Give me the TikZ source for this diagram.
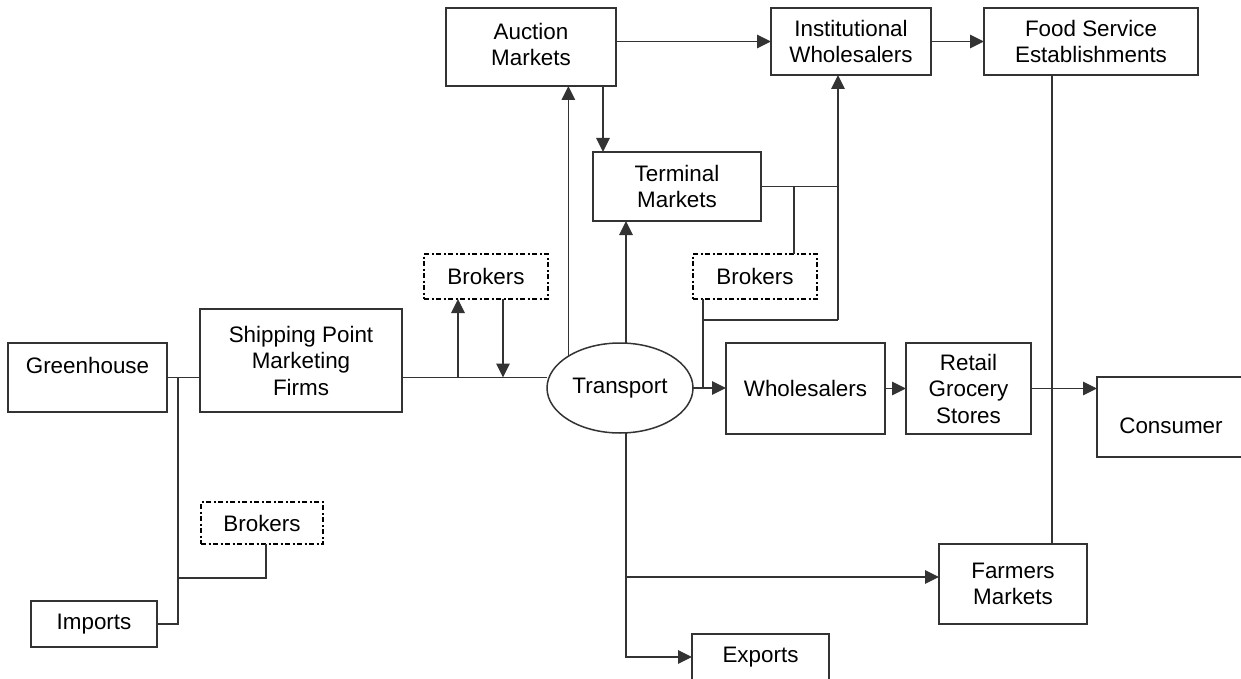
\documentclass[tikz,border=0pt]{standalone}
\usepackage{fontspec}
\setmainfont{Liberation Sans}
\usetikzlibrary{arrows.meta,shapes.geometric}
\begin{document}
\begin{tikzpicture}[x=1pt,y=-1pt,
  box/.style={draw=black!80, line width=1.5pt, rectangle, inner sep=0pt, outer sep=0pt, align=center, font=\fontsize{22.4}{26.5}\selectfont},
  brk/.style={box, draw=black, line width=1.8pt, dash pattern=on 5pt off 2.5pt on 2pt off 2.5pt},
  ln/.style={draw=black!80, line width=1.5pt},
  arr/.style={ln, -{Triangle[length=14pt,width=13.5pt]}}]
\useasboundingbox (0,0) rectangle (1241,679);
\fill[white] (0,0) rectangle (1241,679);
\clip (0,0) rectangle (1241,679);

% nodes
\node[box, minimum width=159pt, minimum height=69pt, text height=16pt, text depth=25pt] (gh) at (87.5,377.5) {Greenhouse};
\node[box, minimum width=202pt, minimum height=103pt] (sp) at (301,360.5) {Shipping Point\\Marketing\\Firms};
\node[box, minimum width=126pt, minimum height=46pt] (im) at (94,624) {Imports};
\node[brk, minimum width=122pt, minimum height=42pt] (bl) at (262,523) {Brokers};
\node[brk, minimum width=124pt, minimum height=45pt] (bt) at (486,276.5) {Brokers};
\node[brk, minimum width=124pt, minimum height=45pt] (bm) at (755,276.5) {Brokers};
\node[box, minimum width=170pt, minimum height=78pt, text height=52pt, text depth=14pt] (au) at (531,47) {Auction\\Markets};
\node[box, minimum width=160pt, minimum height=67pt] (iw) at (851,41.5) {Institutional\\Wholesalers};
\node[box, minimum width=214pt, minimum height=67pt] (fs) at (1091,41.5) {Food Service\\Establishments};
\node[box, minimum width=168pt, minimum height=69pt] (tm) at (677,186.5) {Terminal\\Markets};
\node[ellipse, draw=black!80, line width=1.5pt, inner sep=0pt, outer sep=0pt, minimum width=146pt, minimum height=90pt, font=\fontsize{22.4}{26.5}\selectfont] (tr) at (620,388) {Transport};
\node[box, minimum width=159pt, minimum height=91pt] (wh) at (805.5,388.5) {Wholesalers};
\node[box, minimum width=125pt, minimum height=91pt] (rg) at (968.5,388.5) {Retail\\Grocery\\Stores};
\node[box, minimum width=148pt, minimum height=80pt, text height=37pt, text depth=5pt] (cs) at (1171,417) {Consumer};
\node[box, minimum width=148pt, minimum height=80pt] (fm) at (1013,584) {Farmers\\Markets};
\node[box, minimum width=137pt, minimum height=46pt] (ex) at (760.5,657) {Exports};

% left side
\coordinate (jx) at ([xshift=11pt]gh.east);
\draw[ln] (gh.east) -- (gh.east -| sp.west);
\draw[ln] (jx) -- (jx |- im.east) -- (im.east);
\coordinate (bj) at (178,578);
\coordinate (bs) at ([xshift=4pt]bl.south);
\draw[ln] (bs) |- (bj);

% shipping to transport
\draw[ln] (sp.east |- gh.east) -- (tr.west |- gh.east);
\coordinate (bu) at ([xshift=-28pt]bt.south);
\coordinate (bd) at ([xshift=17pt]bt.south);
\draw[arr] (bu |- gh.east) -- (bu);
\draw[arr] (bd) -- (bd |- gh.east);

% transport upward
\draw[arr] (tr.north west) -- (tr.north west |- au.south);
\coordinate (tu) at ([xshift=6pt]tr.north);
\draw[arr] (tu) -- (tu |- tm.south);
\coordinate (at) at ([xshift=10pt]tm.north west);
\draw[arr] (at |- au.south) -- (at);
\draw[arr] (au.east |- iw.west) -- (iw.west);
\draw[arr] (iw.east) -- (iw.east -| fs.west);

% terminal / brokers network
\coordinate (iu) at ([xshift=-13pt]iw.south);
\coordinate (bf) at ([xshift=10pt]bm.south west);
\coordinate (bq) at ([xshift=39pt]bm.north);
\coordinate (jn) at ([yshift=-21pt]bf);
\draw[ln] (tm.east) -- (tm.east -| iu);
\draw[ln] (bq |- tm.east) -- (bq);
\draw[ln] (bf) -- (bf |- tr.east);
\draw[ln] (jn) -- (jn -| iu);
\draw[arr] (jn -| iu) -- (iu);

% transport to the right
\draw[arr] (tr.east) -- (tr.east -| wh.west);
\draw[arr] (wh.east) -- (rg.west);
\draw[arr] (rg.east) -- (rg.east -| cs.west);
\coordinate (fx) at ([xshift=-39pt]fs.south);
\draw[ln] (fx) -- (fx |- fm.north);

% transport downward
\coordinate (td) at ([xshift=6pt]tr.south);
\draw[arr] (td) |- (ex.west);
\coordinate (ff) at ([yshift=7pt]fm.west);
\draw[arr] (td |- ff) -- (ff);
\end{tikzpicture}
\end{document}
